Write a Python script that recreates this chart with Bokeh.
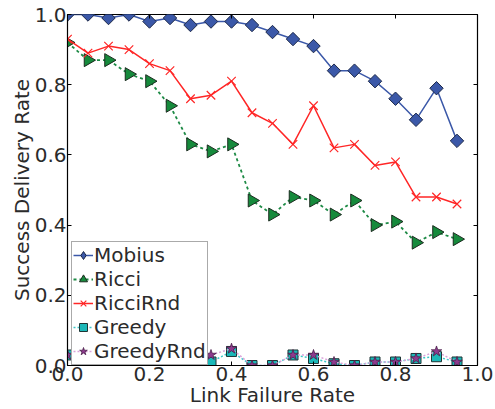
import math
from bokeh.plotting import figure
from bokeh.models import (LinearAxis, Legend, LegendItem, Range1d, FixedTicker,
                          PrintfTickFormatter)
from bokeh.embed import file_html
from bokeh.resources import INLINE

# ---- data ----
link_failure = [0.0, 0.05, 0.1, 0.15, 0.2, 0.25, 0.3, 0.35, 0.4, 0.45,
                0.5, 0.55, 0.6, 0.65, 0.7, 0.75, 0.8, 0.85, 0.9, 0.95]
mobius = [1.0, 1.0, 0.99, 1.0, 0.98, 0.99, 0.97, 0.98, 0.98, 0.97,
          0.95, 0.93, 0.91, 0.84, 0.84, 0.81, 0.76, 0.70, 0.79, 0.64]
ricci = [0.92, 0.87, 0.87, 0.83, 0.81, 0.74, 0.63, 0.61, 0.63, 0.47,
         0.43, 0.48, 0.47, 0.43, 0.47, 0.40, 0.41, 0.35, 0.38, 0.36]
ricci_rnd = [0.93, 0.89, 0.91, 0.90, 0.86, 0.84, 0.76, 0.77, 0.81, 0.72,
             0.69, 0.63, 0.74, 0.62, 0.63, 0.57, 0.58, 0.48, 0.48, 0.46]
greedy = [0.03, 0.02, 0.01, 0.01, 0.0, 0.0, 0.0, 0.01, 0.04, 0.0,
          0.0, 0.03, 0.02, 0.005, 0.0, 0.01, 0.01, 0.02, 0.025, 0.01]
greedy_rnd = [0.03, 0.03, 0.01, 0.01, 0.0, 0.0, 0.0, 0.03, 0.048, 0.0,
              0.0, 0.03, 0.03, 0.01, 0.0, 0.01, 0.01, 0.02, 0.04, 0.01]
ticks = [0.0, 0.2, 0.4, 0.6, 0.8, 1.0]

FONT = "DejaVu Sans"
TXT = "#2b2b2b"

p = figure(width=495, height=409, output_backend="svg", toolbar_location=None,
           x_range=Range1d(0, 1), y_range=Range1d(0, 1),
           min_border_left=67, min_border_right=18, min_border_top=14,
           min_border_bottom=42)
p.grid.visible = False
p.outline_line_color = "black"
p.outline_line_width = 1.2

for ax in (p.xaxis[0], p.yaxis[0]):
    ax.ticker = FixedTicker(ticks=ticks)
    ax.formatter = PrintfTickFormatter(format="%.1f")
    ax.major_label_text_font = FONT
    ax.major_label_text_font_size = "20px"
    ax.major_label_text_color = TXT
    ax.axis_label_text_font = FONT
    ax.axis_label_text_font_size = "20px"
    ax.axis_label_text_font_style = "normal"
    ax.axis_label_text_color = TXT
    ax.major_tick_in = 4
    ax.major_tick_out = 0
    ax.minor_tick_line_color = None
    ax.axis_line_color = "black"

p.xaxis.axis_label = "Link Failure Rate"
p.yaxis.axis_label = "Success Delivery Rate"
p.xaxis.major_label_standoff = 1
p.xaxis.axis_label_standoff = -1
p.yaxis.major_label_standoff = 1
p.yaxis.axis_label_standoff = -2

# tick marks only on the top and right edges (labels not drawn)
for loc in ("above", "right"):
    a = LinearAxis(ticker=FixedTicker(ticks=ticks), major_tick_in=4, major_tick_out=0,
                   minor_tick_line_color=None,
                   major_label_text_font_size="1px", major_label_text_color=None,
                   axis_line_color=None, major_label_standoff=0)
    p.add_layout(a, loc)

# Mobius
l1 = p.line(link_failure, mobius, line_color="#3b58a8", line_width=1.5)
s1 = p.scatter(link_failure, mobius, marker="square", size=9.5, angle=math.pi / 4,
               fill_color="#3b58a8", line_color="#1e2a4a", line_width=1)
# Ricci
l2 = p.line(link_failure, ricci, line_color="#1d8a45", line_width=1.8, line_dash="3 3")
s2 = p.scatter(link_failure, ricci, marker="triangle", size=13, angle=-math.pi / 2,
               fill_color="#168a3c", line_color="#1b2b1f", line_width=1)
# RicciRnd
l3 = p.line(link_failure, ricci_rnd, line_color="#ff2626", line_width=1.5)
s3 = p.scatter(link_failure, ricci_rnd, marker="x", size=12,
               line_color="#ff2626", line_width=1.2)
# Greedy
l4 = p.line(link_failure, greedy, line_color="#3cc8c8", line_width=1.5, line_dash="2 2")
s4 = p.scatter(link_failure, greedy, marker="square", size=10,
               fill_color="#1cb8b8", line_color="#1f3535", line_width=1)
# GreedyRnd
l5 = p.line(link_failure, greedy_rnd, line_color="#dba2db", line_width=1.5, line_dash="2 2")
s5 = p.scatter(link_failure, greedy_rnd, marker="star", size=11,
               fill_color="#8e3a8e", line_color="#4a1f4a", line_width=0.8)

# legend-only glyph (diamond shape as in the original legend), not visible in the plot
s1_leg = p.scatter([float("nan")], [float("nan")], marker="diamond", fill_color="#3b58a8",
                   line_color="#1e2a4a", line_width=1)

legend = Legend(items=[
    LegendItem(label="Mobius", renderers=[l1, s1_leg]),
    LegendItem(label="Ricci", renderers=[l2, s2]),
    LegendItem(label="RicciRnd", renderers=[l3, s3]),
    LegendItem(label="Greedy", renderers=[l4, s4]),
    LegendItem(label="GreedyRnd", renderers=[l5, s5]),
], location=(4, 0), margin=0, padding=1, spacing=-2,
    glyph_width=20, glyph_height=24, label_height=20, label_standoff=1,
    label_text_font=FONT, label_text_font_size="20px", label_text_color=TXT,
    border_line_color="#555555", border_line_width=1.2,
    background_fill_color="white", background_fill_alpha=1.0)
p.add_layout(legend, "center")

open("out.html", "w").write(file_html(p, INLINE))
